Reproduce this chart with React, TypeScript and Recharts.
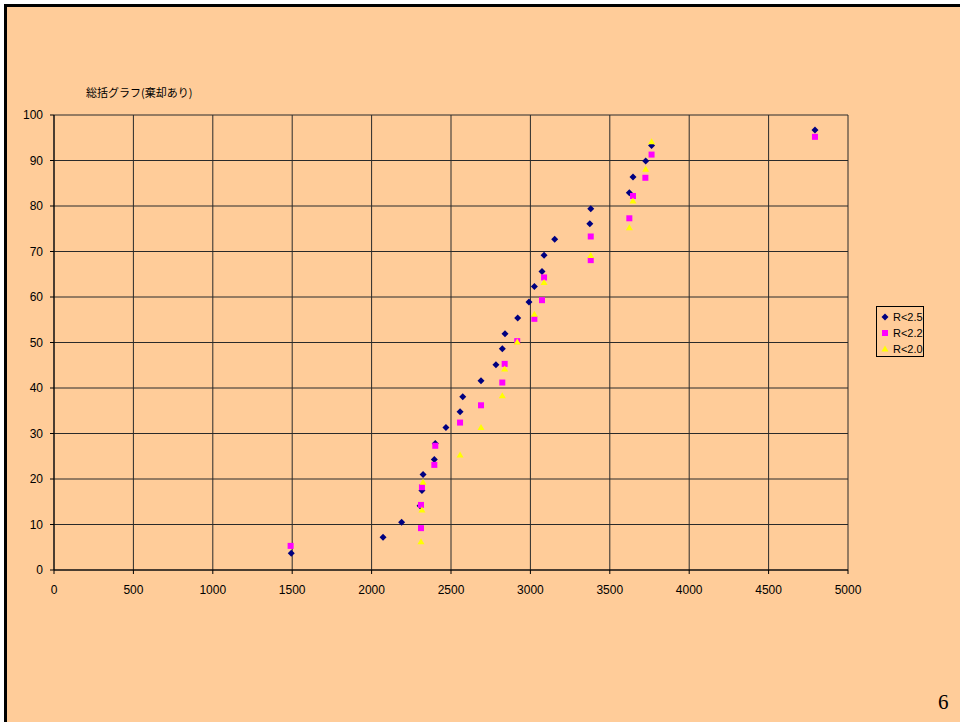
import React from 'react';
import { ScatterChart, Scatter, XAxis, YAxis, CartesianGrid } from 'recharts';

// R<2.5 series (diamonds)
const r25X = [1494, 2072, 2189, 2305, 2317, 2324, 2395, 2401, 2468, 2557, 2574, 2689, 2783, 2823, 2840, 2920, 2991, 3025, 3073, 3086, 3153, 3374, 3380, 3623, 3646, 3726, 3763, 4792];
const r25Y = [3.7, 7.2, 10.5, 14.1, 17.5, 21.0, 24.3, 27.8, 31.3, 34.8, 38.1, 41.6, 45.1, 48.6, 51.9, 55.4, 58.9, 62.3, 65.6, 69.2, 72.7, 76.1, 79.4, 82.9, 86.4, 89.9, 93.3, 96.7];

// R<2.2 series (squares)
const r22X = [1490, 2311, 2311, 2317, 2395, 2401, 2557, 2689, 2823, 2838, 2917, 3025, 3073, 3086, 3380, 3380, 3623, 3646, 3724, 3763, 4792];
const r22Y = [5.3, 9.2, 14.3, 18.2, 23.1, 27.3, 32.4, 36.2, 41.2, 45.3, 50.3, 55.2, 59.3, 64.3, 68.1, 73.3, 77.3, 82.2, 86.2, 91.3, 95.2];

// R<2.0 series (triangles)
const r20X = [2311, 2317, 2324, 2557, 2689, 2823, 2838, 2917, 3025, 3086, 3380, 3623, 3646, 3726, 3763];
const r20Y = [6.2, 13.2, 19.3, 25.3, 31.3, 38.3, 44.2, 50.1, 56.2, 63.2, 69.1, 75.2, 81.1, 88.1, 94.1];

const xTicks = [0, 500, 1000, 1500, 2000, 2500, 3000, 3500, 4000, 4500, 5000];
const yTicks = [0, 10, 20, 30, 40, 50, 60, 70, 80, 90, 100];

const seriesNames = ['R<2.5', 'R<2.2', 'R<2.0'];
const seriesColors = ['#000080', '#FF00FF', '#FFFF00'];

const toPoints = (xs: number[], ys: number[]) => xs.map((x, i) => ({ x, y: ys[i] }));

const Diamond = ({ cx, cy, fill }: any) => (
  <polygon points={`${cx},${cy - 3.5} ${cx + 3.5},${cy} ${cx},${cy + 3.5} ${cx - 3.5},${cy}`} fill={fill} />
);
const Square = ({ cx, cy, fill }: any) => <rect x={cx - 3} y={cy - 3} width={6} height={6} fill={fill} />;
const Triangle = ({ cx, cy, fill }: any) => (
  <polygon points={`${cx},${cy - 3.5} ${cx + 3.5},${cy + 2.5} ${cx - 3.5},${cy + 2.5}`} fill={fill} />
);

const markers = [Diamond, Square, Triangle];

// legend drawn beside the plot, like the Excel one
const LegendBox = () => (
  <div style={{ border: '1px solid #000', width: 48, height: 51, boxSizing: 'border-box', paddingTop: 2 }}>
    {seriesNames.map((name, i) => {
      const M = markers[i];
      return (
        <div key={name} style={{ display: 'flex', alignItems: 'center', height: 16, fontSize: 11, color: '#000' }}>
          <svg width={15} height={10} style={{ marginLeft: 3 }}>
            <M cx={5} cy={5} fill={seriesColors[i]} />
          </svg>
          <span style={{ marginLeft: -2 }}>{name}</span>
        </div>
      );
    })}
  </div>
);

const App = () => {
  return (
    <div style={{ position: 'absolute', left: 0, top: 0, width: 960, height: 722, background: '#fff', overflow: 'hidden', fontFamily: '"Liberation Sans", Arial, sans-serif' }}>
      <div style={{ position: 'absolute', left: 4, top: 4, width: 960, height: 716, background: '#FFCC99', borderTop: '3px solid #000', borderLeft: '3px solid #000', borderBottom: '1px solid #c8a07a' }} />
      <div style={{ position: 'absolute', left: 86, top: 84, fontSize: 11, fontFamily: '"Noto Sans CJK JP", sans-serif', color: '#000' }}>
        総括グラフ(棄却あり)
      </div>
      <div style={{ position: 'absolute', left: 0, top: 0 }}>
        <ScatterChart width={960} height={722} margin={{ top: 115, right: 112, bottom: 122, left: 0 }}>
          <CartesianGrid stroke="#2a2a2a" strokeWidth={1} horizontalValues={yTicks} verticalValues={xTicks} />
          <XAxis
            type="number"
            dataKey="x"
            domain={[0, 5000]}
            ticks={xTicks}
            interval={0}
            height={30}
            tickSize={4}
            tickMargin={11}
            stroke="#000"
            tick={{ fill: '#000', fontSize: 12 }}
          />
          <YAxis
            type="number"
            dataKey="y"
            domain={[0, 100]}
            ticks={yTicks}
            interval={0}
            width={54}
            tickSize={4}
            tickMargin={7}
            stroke="#000"
            tick={{ fill: '#000', fontSize: 12 }}
          />
          <Scatter name={seriesNames[0]} data={toPoints(r25X, r25Y)} fill={seriesColors[0]} shape={<Diamond />} isAnimationActive={false} />
          <Scatter name={seriesNames[1]} data={toPoints(r22X, r22Y)} fill={seriesColors[1]} shape={<Square />} isAnimationActive={false} />
          <Scatter name={seriesNames[2]} data={toPoints(r20X, r20Y)} fill={seriesColors[2]} shape={<Triangle />} isAnimationActive={false} />
        </ScatterChart>
      </div>
      <div style={{ position: 'absolute', left: 876, top: 306 }}>
        <LegendBox />
      </div>
      <div style={{ position: 'absolute', left: 938, top: 690, fontSize: 21, fontFamily: '"Liberation Serif", serif', color: '#000' }}>6</div>
    </div>
  );
};

export default App;
